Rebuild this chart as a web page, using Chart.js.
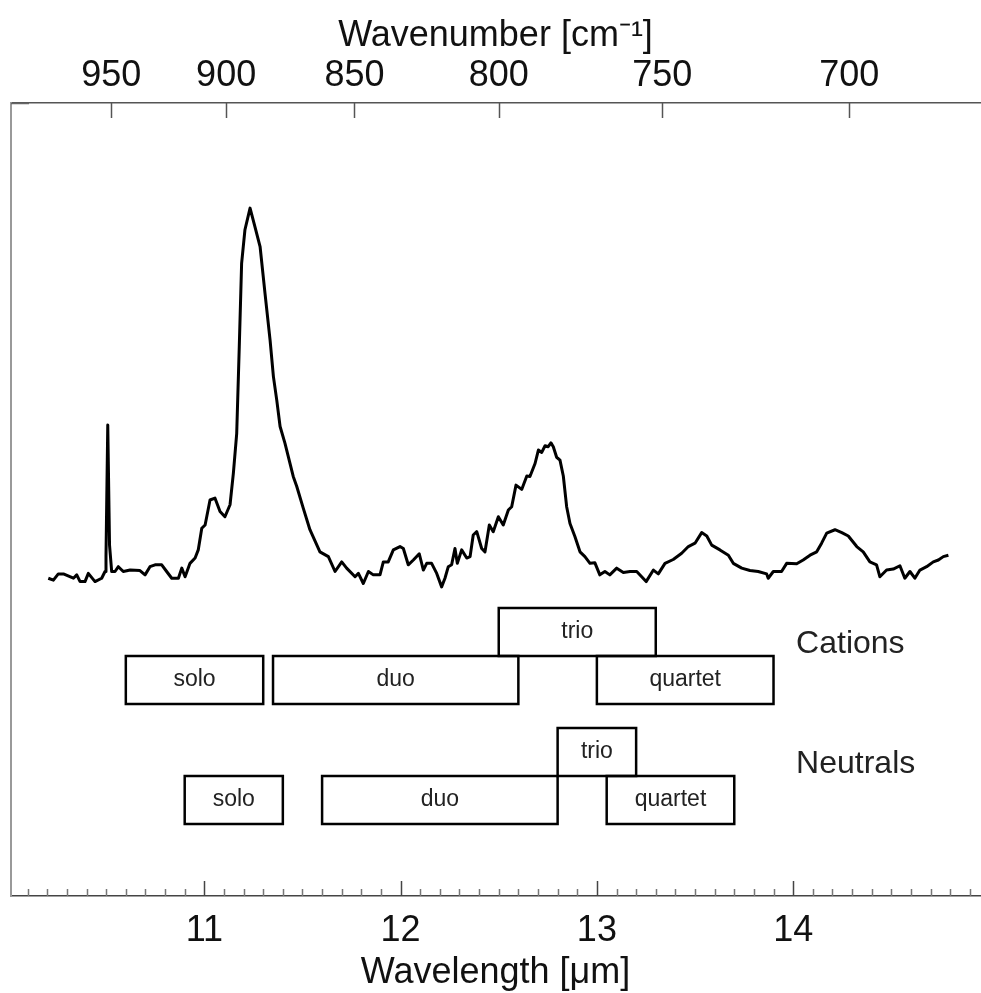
<!DOCTYPE html>
<html>
<head>
<meta charset="utf-8">
<script src="https://cdn.jsdelivr.net/npm/chart.js@4/dist/chart.umd.min.js"></script>
<style>
  html, body { margin: 0; padding: 0; background: #fff; }
  #wrap { width: 981px; height: 993px; position: relative; }
</style>
</head>
<body>
<div id="wrap"><canvas id="c"></canvas></div>
<script>
// ---- Spectrum (wavelength in µm, intensity in arbitrary units) ----
const wavelength = [
  10.205, 10.231, 10.256, 10.282, 10.333, 10.350, 10.367, 10.392, 10.409, 10.443,
  10.477, 10.494, 10.499, 10.508, 10.517, 10.528, 10.545, 10.562, 10.587, 10.622,
  10.672, 10.698, 10.723, 10.749, 10.783, 10.808, 10.834, 10.868, 10.885, 10.902,
  10.927, 10.953, 10.969, 10.987, 11.004, 11.029, 11.054, 11.080, 11.105, 11.131,
  11.148, 11.165, 11.178, 11.190, 11.207, 11.233, 11.258, 11.284, 11.309, 11.335,
  11.352, 11.369, 11.386, 11.411, 11.453, 11.471, 11.504, 11.538, 11.589, 11.632,
  11.666, 11.700, 11.725, 11.768, 11.785, 11.810, 11.836, 11.861, 11.895, 11.912,
  11.937, 11.963, 11.997, 12.014, 12.039, 12.065, 12.095, 12.116, 12.133, 12.158,
  12.184, 12.209, 12.226, 12.243, 12.260, 12.277, 12.289, 12.311, 12.337, 12.354,
  12.370, 12.388, 12.413, 12.430, 12.452, 12.472, 12.498, 12.523, 12.549, 12.566,
  12.588, 12.617, 12.643, 12.659, 12.685, 12.702, 12.719, 12.736, 12.752, 12.766,
  12.778, 12.795, 12.812, 12.829, 12.846, 12.863, 12.888, 12.914, 12.939, 12.965,
  12.990, 13.015, 13.041, 13.066, 13.101, 13.135, 13.169, 13.203, 13.251, 13.288,
  13.313, 13.347, 13.389, 13.432, 13.466, 13.500, 13.534, 13.560, 13.585, 13.627,
  13.670, 13.695, 13.738, 13.780, 13.822, 13.865, 13.873, 13.899, 13.941, 13.967,
  14.018, 14.051, 14.086, 14.120, 14.145, 14.171, 14.213, 14.248, 14.281, 14.324,
  14.357, 14.391, 14.425, 14.442, 14.476, 14.510, 14.544, 14.569, 14.595, 14.620,
  14.646, 14.680, 14.714, 14.740, 14.765, 14.791
];
const intensity = [
  6.62, 6.58, 6.71, 6.71, 6.62, 6.69, 6.55, 6.55, 6.72, 6.55,
  6.62, 6.76, 7.10, 9.81, 7.31, 6.76, 6.76, 6.86, 6.76, 6.79,
  6.78, 6.69, 6.86, 6.90, 6.90, 6.76, 6.62, 6.62, 6.83, 6.65,
  6.93, 7.04, 7.21, 7.66, 7.73, 8.25, 8.29, 8.01, 7.90, 8.15,
  8.81, 9.64, 11.44, 13.18, 13.88, 14.33, 13.94, 13.53, 12.56, 11.58,
  10.82, 10.33, 9.78, 9.43, 8.74, 8.53, 8.08, 7.63, 7.17, 7.07,
  6.76, 6.96, 6.83, 6.65, 6.72, 6.51, 6.76, 6.69, 6.69, 6.96,
  6.96, 7.21, 7.28, 7.24, 6.90, 7.00, 7.13, 6.79, 6.93, 6.93,
  6.72, 6.44, 6.62, 6.86, 6.90, 7.24, 6.93, 7.21, 7.04, 7.07,
  7.52, 7.59, 7.24, 7.17, 7.73, 7.59, 7.90, 7.73, 8.04, 8.11,
  8.56, 8.47, 8.75, 8.74, 9.01, 9.29, 9.24, 9.38, 9.36, 9.44,
  9.36, 9.14, 9.08, 8.75, 8.11, 7.76, 7.49, 7.17, 7.07, 6.93,
  6.94, 6.69, 6.76, 6.69, 6.83, 6.74, 6.76, 6.76, 6.55, 6.79,
  6.71, 6.93, 7.01, 7.14, 7.28, 7.35, 7.57, 7.50, 7.31, 7.21,
  7.10, 6.93, 6.83, 6.78, 6.76, 6.71, 6.62, 6.76, 6.76, 6.93,
  6.92, 7.00, 7.10, 7.17, 7.35, 7.56, 7.63, 7.57, 7.50, 7.28,
  7.17, 6.96, 6.90, 6.65, 6.79, 6.81, 6.88, 6.62, 6.76, 6.62,
  6.79, 6.86, 6.96, 7.00, 7.07, 7.10
];

// ---- C-H out-of-plane bands (µm ranges), rows in intensity units ----
const bandNames  = ['solo', 'duo', 'trio', 'quartet', 'solo', 'duo', 'trio', 'quartet'];
const bandStart  = [10.60, 11.35, 12.50, 13.00, 10.90, 11.60, 12.80, 13.05];
const bandEnd    = [11.30, 12.60, 13.30, 13.90, 11.40, 12.80, 13.20, 13.70];
const bandLow    = [4.0, 4.0, 5.0, 4.0, 1.5, 1.5, 2.5, 1.5];
const bandHigh   = [5.0, 5.0, 6.0, 5.0, 2.5, 2.5, 3.5, 2.5];
const groupNames = ['Cations', 'Neutrals'];
const groupX     = [14.015, 14.015];
const groupLevel = [5.24, 2.75];

// ---- Axes ----
const wavelengthTicks = [11, 12, 13, 14];
const wavenumberTicks = [950, 900, 850, 800, 750, 700];
const xMin = 10.015, xMax = 14.952;
const yMin = 0, yMax = 16.52;

const FONT = "'Liberation Sans', Arial, sans-serif";

const datasets = [{
  label: 'spectrum',
  data: wavelength.map((w, i) => ({ x: w, y: intensity[i] })),
  borderColor: '#000',
  borderWidth: 3,
  pointRadius: 0,
  tension: 0,
  fill: false,
  borderJoinStyle: 'round'
}];
bandNames.forEach((name, i) => {
  datasets.push({
    label: name,
    data: [
      { x: bandStart[i], y: bandLow[i] },
      { x: bandEnd[i], y: bandLow[i] },
      { x: bandEnd[i], y: bandHigh[i] },
      { x: bandStart[i], y: bandHigh[i] },
      { x: bandStart[i], y: bandLow[i] }
    ],
    borderColor: '#000',
    borderWidth: 2.5,
    pointRadius: 0,
    tension: 0,
    fill: false,
    borderJoinStyle: 'miter',
    borderCapStyle: 'square'
  });
});

const decorPlugin = {
  id: 'decor',
  afterDraw(chart) {
    const { ctx, chartArea: { top, bottom, left }, scales: { x, xTop, y } } = chart;
    ctx.save();
    // bottom ticks (inward)
    ctx.lineWidth = 1.5;
    for (let k = 101; k <= 149; k++) {
      const v = k / 10;
      const px = Math.round(x.getPixelForValue(v)) + 0.5;
      const major = wavelengthTicks.some(t => Math.abs(t - v) < 1e-6);
      ctx.strokeStyle = major ? '#444' : '#777';
      ctx.beginPath();
      ctx.moveTo(px, bottom);
      ctx.lineTo(px, bottom - (major ? 15 : 7));
      ctx.stroke();
    }
    // top ticks (inward)
    ctx.strokeStyle = '#555';
    xTop.ticks.forEach(t => {
      const px = Math.round(xTop.getPixelForValue(t.value)) + 0.5;
      ctx.beginPath();
      ctx.moveTo(px, top);
      ctx.lineTo(px, top + 15);
      ctx.stroke();
    });
    // left axis tick at top
    ctx.strokeStyle = '#666';
    ctx.beginPath();
    ctx.moveTo(left, top + 0.5);
    ctx.lineTo(left + 18, top + 0.5);
    ctx.stroke();

    // band labels
    ctx.fillStyle = '#222';
    ctx.font = '23px ' + FONT;
    ctx.textAlign = 'center';
    ctx.textBaseline = 'middle';
    bandNames.forEach((name, i) => {
      const cx = x.getPixelForValue((bandStart[i] + bandEnd[i]) / 2);
      const cy = y.getPixelForValue((bandLow[i] + bandHigh[i]) / 2);
      ctx.fillText(name, cx, cy);
    });
    // group labels
    ctx.font = '32px ' + FONT;
    ctx.textAlign = 'left';
    groupNames.forEach((name, i) => {
      ctx.fillText(name, x.getPixelForValue(groupX[i]), y.getPixelForValue(groupLevel[i]));
    });
    ctx.restore();
  }
};

new Chart(document.getElementById('c'), {
  type: 'line',
  data: { datasets },
  plugins: [decorPlugin],
  options: {
    responsive: true,
    maintainAspectRatio: false,
    animation: false,
    events: [],
    layout: { padding: { left: 0, right: 1, top: 0, bottom: 0 } },
    plugins: { legend: { display: false }, tooltip: { enabled: false } },
    scales: {
      x: {
        type: 'linear', position: 'bottom', min: xMin, max: xMax,
        grid: { display: false, drawTicks: false },
        border: { display: true, color: '#444', width: 1.5 },
        afterBuildTicks: s => { s.ticks = wavelengthTicks.map(v => ({ value: v })); },
        afterFit: s => { s.height = 97; },
        ticks: {
          autoSkip: false, maxRotation: 0, padding: 13,
          color: '#111', font: { family: FONT, size: 36, lineHeight: 1.2 },
          callback: v => String(v)
        },
        title: {
          display: true, text: 'Wavelength [μm]', color: '#111',
          font: { family: FONT, size: 36, lineHeight: 1.1 },
          padding: { top: 0, bottom: 0 }
        }
      },
      xTop: {
        type: 'linear', position: 'top', min: xMin, max: xMax,
        grid: { display: false, drawTicks: false },
        border: { display: true, color: '#555', width: 1.5 },
        afterBuildTicks: s => { s.ticks = wavenumberTicks.map(w => ({ value: 10000 / w })); },
        afterFit: s => { s.height = 103; },
        ticks: {
          autoSkip: false, maxRotation: 0, padding: 5,
          color: '#111', font: { family: FONT, size: 36, lineHeight: 1.2 },
          callback: v => String(Math.round(10000 / v))
        },
        title: {
          display: true, text: 'Wavenumber [cm⁻¹]', color: '#111',
          font: { family: FONT, size: 36, lineHeight: 1.2 },
          padding: { top: 14, bottom: 0 }
        }
      },
      y: {
        type: 'linear', position: 'left', min: yMin, max: yMax,
        grid: { display: false, drawTicks: false },
        border: { display: true, color: '#999', width: 2 },
        ticks: { display: false },
        afterFit: s => { s.width = 11; }
      }
    }
  }
});
</script>
</body>
</html>
